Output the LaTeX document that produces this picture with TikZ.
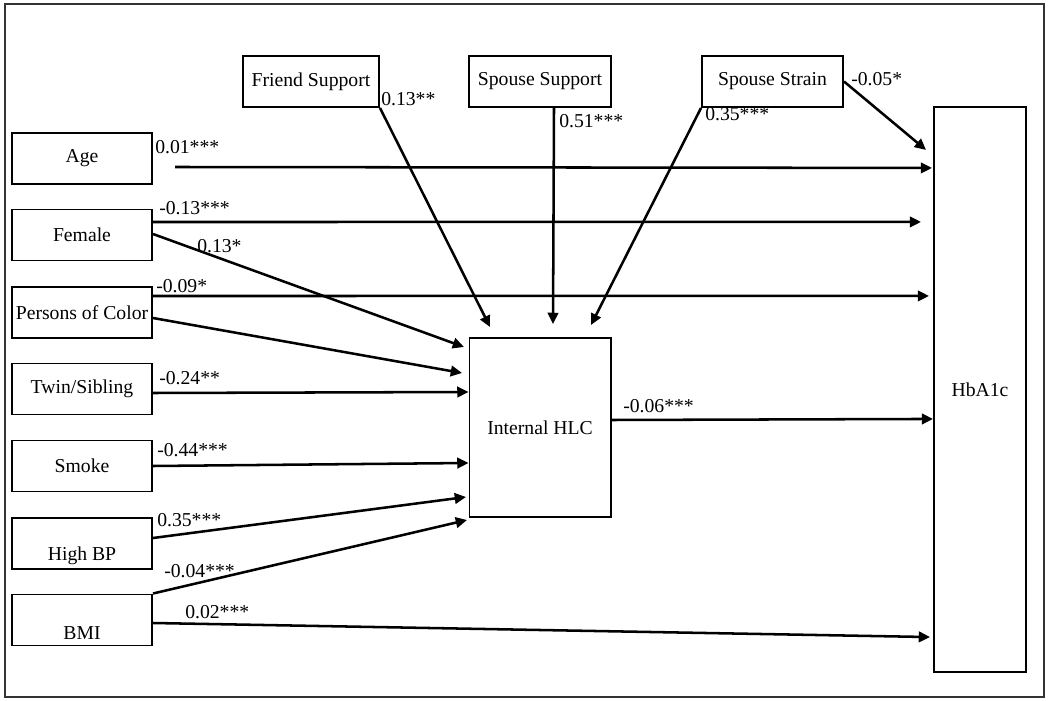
\documentclass[tikz,border=0pt]{standalone}
\usepackage{fontspec}
\setmainfont{Liberation Serif}
\usetikzlibrary{arrows.meta,calc}

\tikzset{
    varbox/.style={draw, line width=1.4pt, minimum width=3.5cm, minimum height=1.275cm, inner sep=2pt, align=center},
    effect/.style={line width=1.8pt, -{Triangle[length=8pt,width=7.5pt]}},
    coef/.style={anchor=west, inner sep=0pt}
}

\begin{document}
\begin{tikzpicture}[x=0.025cm, y=-0.025cm, font=\fontsize{14}{16}\selectfont]
                \useasboundingbox (0,0) rectangle (1050,701);
                \draw[black!80, line width=1pt] (5,4) rectangle (1044,697);
                % predictors on the left
                \foreach \name/\y/\txt in {age/158.5/Age, female/235/Female, poc/312.5/Persons of Color, twin/389/{Twin/Sibling}, smoke/466/Smoke, highbp/543.5/{\strut\\High BP}, bmi/620/{\strut\\BMI}} {
                    \node[varbox] (\name) at (82,\y) {\txt};
                }
                % social relations on top
                \node[varbox, minimum width=3.4cm] (friend) at (311,81.5) {Friend Support};
                \node[varbox, minimum width=3.55cm] (spouse) at (540,81.5) {Spouse Support};
                \node[varbox, minimum width=3.525cm] (strain) at (772.5,81.5) {Spouse Strain};
                % mediator and outcome
                \node[varbox, minimum width=3.525cm, minimum height=4.475cm] (hlc) at (540,427.5) {Internal HLC};
                \node[varbox, minimum width=2.3cm, minimum height=14.125cm] (hba) at (980,389.5) {HbA1c};
                % paths into internal HLC
                \draw[effect] (friend.south east) -- ($(hlc.north west)+(21.5,-10)$);
                \draw[effect] ($(spouse.south)+(14,0)$) -- ($(hlc.north west)+(84.5,-13)$);
                \draw[effect] (strain.south west) -- ($(hlc.north west)+(122.5,-12)$);
                \draw[effect] ($(female.east)+(0,-1)$) -- ($(hlc.north west)+(-4.5,10)$);
                \draw[effect] ($(poc.east)+(0,5.5)$) -- ($(hlc.north west)+(-6.5,36)$);
                \draw[effect] ($(twin.east)+(0,4)$) -- ($(hlc.north west)+(0,55)$);
                \draw[effect] (smoke.east) -- ($(hlc.north west)+(0,126)$);
                \draw[effect] ($(highbp.east)+(0,-5.5)$) -- ($(hlc.north west)+(-2.5,160)$);
                \draw[effect] (bmi.north east) -- ($(hlc.south west)+(-1.5,2)$);
                % paths into HbA1c
                \draw[effect] (strain.east) -- ($(hba.north west)+(-7,44)$);
                \draw[effect] ($(age.east)+(22,8.5)$) -- ($(hba.north west)+(-1,62)$);
                \draw[effect] ($(female.east)+(0,-13)$) -- ($(hba.north west)+(-12,116)$);
                \draw[effect] ($(poc.east)+(0,-16.5)$) -- ($(hba.north west)+(-4,190)$);
                \draw[effect] ($(hlc.east)+(0,-7.5)$) -- ($(hba.north west)+(0,313)$);
                \draw[effect] ($(bmi.east)+(0,3)$) -- ($(hba.south west)+(-3,-36)$);
                % coefficients
                \foreach \n/\x/\y/\val in {cfriend/381/99/0.13**, cspouse/559/121/0.51***, cstrain/705/114/0.35***, cstrainhba/851/79/-0.05*,
                        cage/155/147/0.01***, cfemhba/159/208/-0.13***, cfemhlc/197/246/0.13*, cpochba/156/286/-0.09*,
                        ctwin/159/378/-0.24**, csmoke/157/450/-0.44***, chighbp/157/520/0.35***, cbmihlc/164/571/-0.04***,
                        cbmihba/185/612/0.02***, chlc/623/406/-0.06***} {
                    \node[coef] (\n) at (\x,\y) {\val};
                }
            \end{tikzpicture}
\end{document}
